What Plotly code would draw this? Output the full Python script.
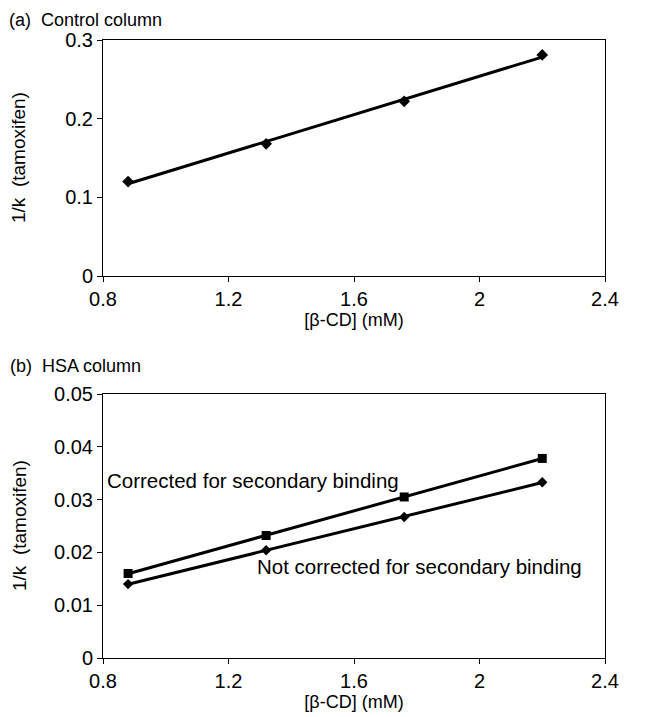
import numpy as np
import plotly.graph_objects as go
from plotly.subplots import make_subplots

# Data
cd_conc = [0.88, 1.32, 1.76, 2.20]
control_inv_k = [0.120, 0.168, 0.222, 0.281]
hsa_corrected = [0.0160, 0.0232, 0.0305, 0.0378]
hsa_not_corrected = [0.0140, 0.0204, 0.0267, 0.0333]

x_ticks = [0.8, 1.2, 1.6, 2.0, 2.4]
x_tick_text = ["0.8", "1.2", "1.6", "2", "2.4"]
top_y_ticks = [0, 0.1, 0.2, 0.3]
top_y_text = ["0", "0.1", "0.2", "0.3"]
bot_y_ticks = [0, 0.01, 0.02, 0.03, 0.04, 0.05]
bot_y_text = ["0", "0.01", "0.02", "0.03", "0.04", "0.05"]

FONT = "Liberation Sans, Arial, sans-serif"

W, H = 645, 717
L, R, T, B = 95, 48, 32, 67
PH = H - T - B
PW = W - L - R
top_bottom_px = 268     # pixel y of 0 in the top panel
bot_top_px = 386        # pixel y of 0.05 in the bottom panel
bot_bottom_px = H - B

def py(px):
    return (bot_bottom_px - px) / PH

def pxx(px):
    return (px - L) / PW

fig = make_subplots(rows=2, cols=1)


def fit_line(x, y):
    m, b = np.polyfit(x, y, 1)
    xs = np.array([min(x), max(x)])
    return xs, m * xs + b


# Top panel
fx, fy = fit_line(cd_conc, control_inv_k)
fig.add_trace(go.Scatter(x=fx, y=fy, mode="lines", line=dict(color="black", width=3),
                         showlegend=False, hoverinfo="skip"), row=1, col=1)
fig.add_trace(go.Scatter(x=cd_conc, y=control_inv_k, mode="markers",
                         marker=dict(symbol="diamond", size=9, color="black"),
                         showlegend=False), row=1, col=1)

# Bottom panel
fx, fy = fit_line(cd_conc, hsa_corrected)
fig.add_trace(go.Scatter(x=fx, y=fy, mode="lines", line=dict(color="black", width=3),
                         showlegend=False, hoverinfo="skip"), row=2, col=1)
fig.add_trace(go.Scatter(x=cd_conc, y=hsa_corrected, mode="markers",
                         marker=dict(symbol="square", size=9, color="black"),
                         showlegend=False), row=2, col=1)
fx, fy = fit_line(cd_conc, hsa_not_corrected)
fig.add_trace(go.Scatter(x=fx, y=fy, mode="lines", line=dict(color="black", width=3),
                         showlegend=False, hoverinfo="skip"), row=2, col=1)
fig.add_trace(go.Scatter(x=cd_conc, y=hsa_not_corrected, mode="markers",
                         marker=dict(symbol="diamond", size=8, color="black"),
                         showlegend=False), row=2, col=1)

axis_common = dict(showgrid=False, zeroline=False, showline=True, linecolor="black",
                   linewidth=1, mirror=True, ticks="outside", ticklen=5, tickcolor="black",
                   tickfont=dict(family=FONT, size=20, color="black"))

for r in (1, 2):
    fig.update_xaxes(range=[0.8, 2.4], tickvals=x_ticks, ticktext=x_tick_text,
                     title=dict(text="[β-CD] (mM)", font=dict(family=FONT, size=18, color="black"),
                                standoff=4),
                     row=r, col=1, **axis_common)
fig.update_yaxes(range=[0, 0.3], tickvals=top_y_ticks, ticktext=top_y_text,
                 row=1, col=1, **axis_common)
fig.update_yaxes(range=[0, 0.05], tickvals=bot_y_ticks, ticktext=bot_y_text,
                 row=2, col=1, **axis_common)

fig.update_layout(
    width=W, height=H,
    margin=dict(l=L, r=R, t=T, b=B),
    paper_bgcolor="white", plot_bgcolor="white",
    font=dict(family=FONT, color="black"),
    yaxis=dict(domain=[py(top_bottom_px), 1.0]),
    yaxis2=dict(domain=[0.0, py(bot_top_px)]),
)

# Y-axis titles
for (ytop, ybot) in ((T, top_bottom_px), (bot_top_px, bot_bottom_px)):
    fig.add_annotation(text="1/k  (tamoxifen)", xref="paper", yref="paper",
                       x=pxx(11), y=py((ytop + ybot) / 2), xanchor="center", yanchor="middle",
                       textangle=-90, showarrow=False,
                       font=dict(family=FONT, size=19, color="black"))

fig.add_annotation(text="(a)  Control column", xref="paper", yref="paper",
                   x=pxx(0), y=py(1), xanchor="left", yanchor="top", borderpad=0,
                   showarrow=False, font=dict(family=FONT, size=18, color="black"))
fig.add_annotation(text="(b)  HSA column", xref="paper", yref="paper",
                   x=pxx(0), y=py(358), xanchor="left", yanchor="middle",
                   showarrow=False, font=dict(family=FONT, size=18, color="black"))

fig.add_annotation(text="Corrected for secondary binding", xref="x2", yref="y2",
                   x=0.805, y=0.0336, xanchor="left", yanchor="middle",
                   showarrow=False, font=dict(family=FONT, size=20.5, color="black"))
fig.add_annotation(text="Not corrected for secondary binding", xref="x2", yref="y2",
                   x=1.285, y=0.0174, xanchor="left", yanchor="middle",
                   showarrow=False, font=dict(family=FONT, size=20.5, color="black"))

fig.write_html("out.html")
